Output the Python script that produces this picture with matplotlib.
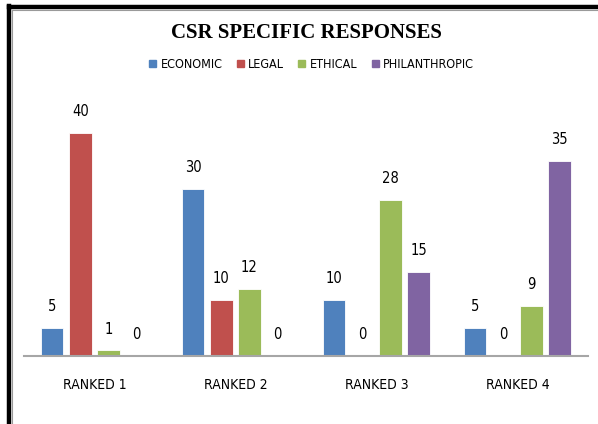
import matplotlib.pyplot as plt
import matplotlib.lines as mlines
import matplotlib.patches as mpatches
import numpy as np

# data
categories = ['RANKED 1', 'RANKED 2', 'RANKED 3', 'RANKED 4']
economic = [5, 30, 10, 5]
legal = [40, 10, 0, 0]
ethical = [1, 12, 28, 9]
philanthropic = [0, 0, 15, 35]

series = {
    'ECONOMIC': (economic, '#4F81BD'),
    'LEGAL': (legal, '#C0504D'),
    'ETHICAL': (ethical, '#9BBB59'),
    'PHILANTHROPIC': (philanthropic, '#8064A2'),
}

narrow = ['DejaVu Sans Condensed', 'Liberation Sans Narrow', 'DejaVu Sans']

fig = plt.figure(figsize=(5.98, 4.24), dpi=100)
ax = fig.add_axes([0.040, 0.1604, 0.943, 0.592])

x = np.arange(len(categories))
offsets = [-0.30, -0.10, 0.10, 0.30]
width = 0.16
handles = []
for (name, (vals, col)), off in zip(series.items(), offsets):
    bars = ax.bar(x + off, vals, width, color=col, edgecolor='white', linewidth=0.6)
    ax.bar_label(bars, padding=10, fontsize=10.5, family=narrow, fontstretch='condensed')
    handles.append(mpatches.Patch(color=col, label=name))

ax.set_xlim(-0.5, 3.5)
ax.set_ylim(0, 45)
ax.set_yticks([])
ax.set_xticks(x)
ax.set_xticklabels(categories, family=narrow, fontsize=10, fontstretch='condensed')
ax.tick_params(axis='x', length=0, pad=15.5)
for side in ['top', 'right', 'left']:
    ax.spines[side].set_visible(False)
ax.spines['bottom'].set_color('#A6A6A6')
ax.spines['bottom'].set_linewidth(1.5)

fig.text(0.513, 0.922, 'CSR SPECIFIC RESPONSES', ha='center', va='center',
         family='Liberation Serif', fontweight='bold', fontsize=15)

leg = fig.legend(handles=handles, loc='center', bbox_to_anchor=(0.521, 0.848), ncol=4,
                 frameon=False, handlelength=0.55, handleheight=0.55, handletextpad=0.35,
                 columnspacing=1.15,
                 prop={'family': narrow, 'size': 9, 'stretch': 'condensed'})

# frame around the chart (top and left edges as in the reference)
W, H = 598, 424
fig.add_artist(mlines.Line2D([9 / W, 1], [1 - 7 / H, 1 - 7 / H], color='black', linewidth=3.2))
fig.add_artist(mlines.Line2D([9 / W, 9 / W], [0, 1 - 5.5 / H], color='black', linewidth=3.2))
fig.add_artist(mlines.Line2D([11.5 / W, 1], [1 - 9.8 / H, 1 - 9.8 / H], color='#9A9A9A', linewidth=0.8))
fig.add_artist(mlines.Line2D([11.8 / W, 11.8 / W], [0, 1 - 9.8 / H], color='#9A9A9A', linewidth=0.8))

fig.savefig('out.png', dpi=100)
